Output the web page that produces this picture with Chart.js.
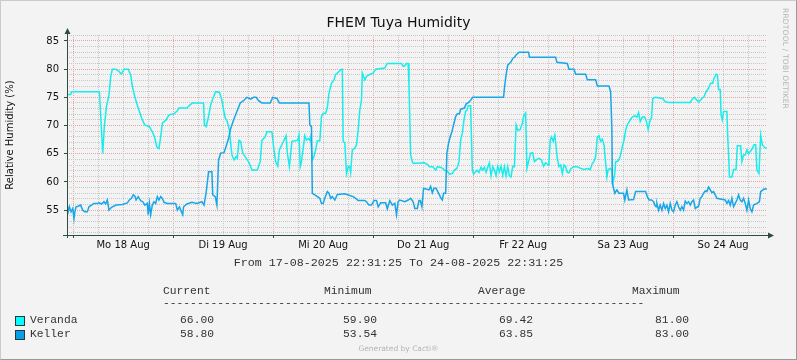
<!DOCTYPE html>
<html>
<head>
<meta charset="utf-8">
<script src="https://cdn.jsdelivr.net/npm/chart.js@4.4.1/dist/chart.umd.min.js"></script>
<style>
  html, body { margin: 0; padding: 0; background: #F3F3F3; }
  #wrap { position: relative; width: 797px; height: 360px; background: #F3F3F3; overflow: hidden; }
  #chart { position: absolute; left: 0; top: 0; }
  #frame { position: absolute; left: 0; top: 0; width: 797px; height: 360px; box-sizing: border-box;
           border-top: 1px solid #CBCBCB; border-left: 1px solid #CBCBCB;
           border-right: 1px solid #999999; border-bottom: 1px solid #999999; pointer-events: none; }
  .txt { position: absolute; white-space: pre; color: #111; }
  #title { left: 0; width: 797px; top: 14px; text-align: center; font: 14px "DejaVu Sans", sans-serif; line-height: 16px; }
  #range { left: 0; width: 797px; top: 257px; text-align: center; font: 11.7px "Liberation Mono", monospace; line-height: 12px; color: #333; }
  .mono { font: 11.3px "Liberation Mono", monospace; line-height: 12px; color: #333; }
  .box { position: absolute; width: 8px; height: 8px; border: 1px solid #333; }
  #watermark { left: 781px; top: 8px; font: 7.5px "DejaVu Sans", sans-serif; color: #B4B4B4; writing-mode: vertical-rl; letter-spacing: 0.2px; }
  #generated { left: 0; width: 797px; text-align: center; top: 344px; font: 7.5px "DejaVu Sans", sans-serif; color: #B4B4B4; line-height: 9px; }
</style>
</head>
<body>
<div id="wrap">
  <canvas id="chart" width="797" height="360"></canvas>
  <div id="title" class="txt">FHEM Tuya Humidity</div>
  <div id="range" class="txt">From 17-08-2025 22:31:25 To 24-08-2025 22:31:25</div>
  <div id="legend"></div>
  <div id="watermark" class="txt">RRDTOOL / TOBI OETIKER</div>
  <div id="generated" class="txt">Generated by Cacti®</div>
  <div id="frame"></div>
</div>
<script>
// time axis: hours since Mo 18 Aug 00:00
const START_H = -1.4764;   // 17-08-2025 22:31:25
const END_H = 166.5236;    // 24-08-2025 22:31:25
const dayLabels = ['Mo 18 Aug', 'Di 19 Aug', 'Mi 20 Aug', 'Do 21 Aug', 'Fr 22 Aug', 'Sa 23 Aug', 'So 24 Aug'];
const Y_MIN = 50.6;
const Y_MAX = 86.05;

const seriesNames = ['Veranda', 'Keller'];
const lineColors = ['#18ECEC', '#18A6E8'];
const boxColors = ['#00FFFF', '#00A2E8'];
const statHeaders = ['Current', 'Minimum', 'Average', 'Maximum'];
const statCurrent = ['66.00', '58.80'];
const statMinimum = ['59.90', '53.54'];
const statAverage = ['69.42', '63.85'];
const statMaximum = ['81.00', '83.00'];

const verandaHours = [
  -1.48, -0.6, -0.4, 6.3, 6.6, 7.1, 7.5, 8.0, 8.6, 9.0, 9.4, 10.2, 11.0, 11.6, 12.2, 13.2, 13.8, 14.2, 14.8, 15.4,
  15.9, 16.6, 17.2, 18.3, 19.0, 19.5, 20.1, 20.6, 21.0, 21.4, 22.3, 23.0, 24.2, 25.0, 25.4, 27.3, 28.1, 28.7, 31.3, 31.5,
  31.9, 32.5, 33.0, 33.7, 34.2, 35.1, 35.6, 36.1, 36.5, 37.0, 37.5, 37.8, 38.1, 38.6, 39.1, 39.4, 39.8, 40.2, 40.7, 41.3,
  41.8, 42.3, 42.9, 44.2, 44.9, 45.3, 46.1, 46.5, 47.7, 48.2, 48.6, 49.1, 49.5, 50.1, 50.6, 51.1, 51.4, 51.9, 52.5, 53.3,
  53.9, 54.2, 54.5, 54.8, 55.2, 55.6, 56.0, 56.4, 56.8, 57.0, 57.4, 57.8, 58.2, 58.6, 59.2, 59.6, 60.0, 60.6, 61.0, 61.4,
  62.0, 62.6, 63.0, 63.4, 64.0, 64.4, 64.6, 64.8, 65.2, 65.6, 66.0, 66.4, 66.6, 67.0, 67.6, 68.0, 68.4, 68.8, 69.2, 69.4,
  70.0, 70.4, 71.0, 72.0, 72.6, 74.8, 75.4, 78.8, 79.2, 79.6, 80.0, 80.4, 80.6, 81.0, 81.4, 81.6, 82.3, 84.3, 85.1, 85.5,
  86.3, 87.0, 87.4, 88.1, 88.7, 89.1, 89.9, 90.3, 91.0, 91.5, 92.1, 92.6, 93.0, 93.4, 93.8, 94.2, 94.6, 94.8, 95.4, 95.5,
  95.8, 96.1, 96.6, 97.0, 97.4, 97.9, 98.3, 98.7, 99.1, 99.5, 99.9, 100.3, 100.7, 101.1, 101.5, 101.9, 102.3, 102.7, 103.1, 103.5,
  103.9, 104.3, 104.7, 105.1, 105.5, 105.9, 106.3, 106.7, 107.3, 107.8, 108.1, 108.6, 108.9, 109.3, 109.8, 110.3, 110.7, 111.3, 111.8, 112.4,
  112.9, 113.4, 114.0, 114.2, 114.5, 114.8, 115.2, 115.6, 115.8, 116.2, 116.6, 117.0, 117.4, 117.8, 118.2, 118.6, 119.0, 119.4, 120.1, 121.0,
  121.8, 122.6, 123.4, 124.1, 124.6, 125.0, 125.4, 125.8, 126.2, 126.6, 127.0, 127.4, 127.8, 128.1, 128.4, 128.9, 129.3, 129.6, 130.0, 130.2,
  130.8, 131.3, 131.8, 132.2, 132.6, 133.0, 133.7, 134.2, 134.8, 135.3, 135.7, 136.1, 136.6, 137.2, 137.6, 138.0, 138.5, 138.8, 139.1, 139.7,
  141.5, 142.1, 142.9, 148.1, 148.7, 149.1, 149.7, 150.2, 150.9, 151.4, 151.9, 152.5, 153.0, 153.5, 153.8, 154.3, 154.6, 154.9, 155.3, 155.5,
  155.8, 156.1, 156.9, 157.1, 157.4, 157.5, 158.1, 158.5, 159.1, 159.4, 160.2, 160.5, 160.9, 161.3, 161.7, 162.1, 162.5, 162.9, 163.4, 163.8,
  164.1, 164.6, 165.0, 165.4, 166.1, 166.52
];
const verandaValues = [
  75.5, 75.5, 76.0, 76.0, 72.0, 65.1, 70.0, 73.4, 75.4, 78.6, 80.0, 80.0, 79.6, 79.1, 80.0, 80.0, 79.0, 77.0, 75.1, 73.6,
  72.5, 71.0, 70.1, 69.8, 68.9, 68.0, 66.2, 65.9, 68.0, 70.4, 71.0, 71.9, 72.1, 72.6, 73.1, 73.1, 73.7, 74.0, 74.0, 70.1,
  69.8, 71.6, 73.7, 75.1, 76.0, 75.9, 74.8, 72.8, 71.3, 70.7, 69.2, 66.9, 64.8, 63.9, 64.5, 64.2, 67.4, 67.2, 65.1, 64.5,
  63.9, 63.3, 62.1, 62.1, 63.6, 67.4, 68.0, 68.9, 68.9, 65.7, 63.6, 62.8, 65.7, 66.6, 67.4, 68.2, 65.1, 62.7, 67.2, 67.3,
  67.4, 68.3, 62.7, 63.6, 65.9, 68.2, 67.4, 67.7, 67.4, 68.0, 63.9, 64.5, 65.7, 67.3, 67.3, 71.6, 72.2, 72.2, 73.2, 75.7,
  77.5, 78.1, 79.1, 79.3, 79.7, 80.0, 80.0, 67.2, 66.9, 61.5, 62.7, 62.7, 61.7, 65.7, 66.0, 66.6, 69.2, 72.8, 74.5, 79.3,
  78.1, 78.7, 79.0, 79.3, 80.0, 80.2, 81.0, 81.0, 80.5, 80.6, 81.0, 81.0, 77.2, 64.8, 63.6, 63.3, 63.3, 63.4, 63.1, 62.7,
  62.7, 62.1, 62.7, 62.6, 62.4, 62.1, 61.8, 61.4, 61.5, 62.1, 62.4, 63.6, 67.4, 68.6, 71.0, 72.5, 72.8, 73.5, 73.5, 70.4,
  62.1, 61.4, 61.8, 62.1, 61.7, 62.6, 62.1, 62.6, 61.7, 62.6, 63.4, 61.1, 62.7, 62.1, 61.1, 62.8, 61.8, 62.8, 61.2, 62.7,
  61.1, 62.7, 61.1, 60.9, 62.8, 62.7, 70.1, 69.2, 69.3, 70.4, 71.6, 72.2, 62.4, 63.6, 65.1, 65.2, 63.6, 64.0, 64.2, 63.9,
  62.8, 63.4, 63.0, 63.6, 67.4, 68.0, 67.2, 68.3, 66.9, 64.2, 62.7, 63.0, 61.5, 63.0, 62.7, 61.7, 61.6, 62.3, 62.7, 62.7,
  62.4, 62.2, 62.4, 62.2, 63.3, 63.6, 64.5, 68.0, 68.2, 67.2, 67.6, 66.6, 63.3, 60.9, 62.2, 62.4, 62.1, 59.9, 61.5, 63.6,
  63.7, 64.5, 66.3, 67.4, 69.2, 70.1, 71.0, 71.5, 71.7, 71.5, 72.3, 70.7, 71.5, 71.5, 70.7, 69.3, 71.0, 71.3, 74.8, 75.0,
  74.8, 74.2, 74.1, 74.1, 74.8, 75.0, 74.5, 74.2, 74.8, 75.1, 76.0, 76.6, 77.5, 77.5, 78.4, 79.1, 79.0, 76.4, 76.4, 71.9,
  71.0, 72.5, 72.5, 68.0, 63.3, 60.9, 60.9, 62.2, 62.2, 66.4, 66.4, 63.6, 64.8, 64.8, 65.7, 65.0, 65.4, 65.8, 66.6, 66.6,
  62.1, 61.5, 68.3, 66.6, 66.0, 66.0
];

const kellerHours = [
  -1.48, -1.2, -0.9, -0.5, -0.1, 0.2, 0.4, 0.7, 1.2, 1.8, 2.3, 2.8, 3.4, 3.8, 4.4, 5.0, 5.8, 6.3, 6.8, 7.4,
  7.8, 8.2, 8.6, 9.2, 10.3, 11.8, 13.0, 13.5, 14.0, 14.4, 14.8, 15.1, 15.6, 16.2, 16.7, 17.2, 17.8, 18.0, 18.3, 18.6,
  19.0, 19.4, 19.8, 20.2, 20.6, 21.0, 21.4, 21.8, 22.6, 24.6, 25.0, 25.5, 26.0, 26.3, 26.5, 27.3, 28.5, 29.7, 30.9, 31.4,
  31.9, 32.5, 33.3, 33.5, 34.1, 34.5, 34.9, 35.4, 36.2, 36.7, 37.3, 37.7, 38.5, 39.3, 40.1, 40.9, 41.7, 42.6, 43.3, 43.9,
  44.5, 45.3, 47.3, 47.9, 48.9, 49.5, 56.6, 56.8, 57.2, 57.4, 58.0, 58.6, 59.2, 59.6, 60.0, 60.4, 61.0, 61.4, 61.8, 62.2,
  62.8, 63.4, 65.2, 66.0, 67.2, 67.8, 68.4, 70.0, 70.4, 71.0, 71.6, 72.2, 72.8, 73.2, 73.8, 75.0, 75.4, 76.0, 76.6, 77.2,
  77.6, 78.0, 78.4, 79.6, 80.4, 81.0, 81.6, 82.0, 82.6, 83.0, 83.3, 83.7, 84.1, 85.4, 85.8, 86.2, 86.6, 87.1, 87.5, 87.9,
  88.3, 88.6, 88.9, 89.4, 89.7, 90.1, 90.5, 90.9, 91.3, 91.8, 92.2, 92.7, 93.0, 93.9, 94.3, 94.9, 95.4, 95.9, 103.3, 103.5,
  103.9, 104.3, 104.7, 105.1, 105.5, 105.9, 106.3, 107.0, 109.3, 109.5, 115.8, 116.1, 118.6, 119.0, 120.2, 120.6, 123.0, 123.4, 125.4, 125.8,
  128.6, 129.0, 129.3, 129.4, 129.6, 130.0, 130.5, 131.0, 132.1, 132.4, 132.9, 133.3, 134.5, 135.0, 137.4, 137.8, 138.2, 138.8, 139.3, 139.6,
  139.9, 140.1, 140.5, 140.9, 141.3, 141.7, 142.1, 142.5, 142.9, 143.3, 143.7, 144.1, 144.5, 144.9, 145.3, 145.7, 146.1, 146.5, 146.9, 147.3,
  147.7, 148.1, 148.5, 148.9, 149.3, 150.1, 150.5, 150.9, 151.3, 151.7, 152.1, 152.5, 152.9, 153.3, 153.7, 154.1, 154.5, 156.5, 156.9, 157.3,
  157.7, 158.1, 158.5, 158.9, 159.3, 159.7, 160.1, 160.5, 160.9, 161.3, 161.7, 162.1, 162.5, 162.9, 163.3, 164.1, 164.7, 165.0, 165.7, 166.52
];
const kellerValues = [
  56.2, 54.7, 55.6, 54.7, 55.3, 53.5, 54.7, 55.6, 55.7, 55.9, 55.0, 54.7, 54.7, 55.6, 55.9, 56.2, 56.2, 56.3, 56.1, 56.5,
  56.1, 56.8, 55.0, 55.5, 55.9, 56.0, 56.3, 56.8, 57.1, 57.7, 57.5, 56.8, 57.4, 56.7, 56.5, 55.9, 56.2, 54.2, 56.2, 54.2,
  55.9, 56.5, 56.2, 57.4, 56.8, 57.4, 57.1, 56.4, 56.2, 56.2, 55.0, 55.6, 54.7, 54.2, 55.6, 56.1, 56.4, 56.2, 56.5, 55.9,
  58.0, 61.8, 61.8, 57.7, 57.4, 55.9, 63.9, 65.1, 65.2, 66.3, 67.7, 69.2, 71.0, 72.5, 74.0, 74.4, 75.0, 74.7, 75.0, 75.0,
  74.4, 74.0, 74.0, 75.0, 74.8, 74.0, 74.0, 70.1, 69.8, 58.0, 57.7, 57.4, 57.1, 56.2, 56.2, 57.1, 58.3, 58.0, 57.1, 57.4,
  56.8, 57.8, 57.9, 57.7, 57.4, 57.1, 56.7, 56.7, 56.5, 55.9, 55.9, 56.7, 56.7, 55.6, 56.3, 56.3, 55.2, 56.7, 55.9, 56.2,
  54.2, 56.5, 56.8, 56.5, 56.8, 57.1, 56.5, 55.3, 55.3, 56.7, 56.7, 55.6, 58.9, 58.6, 59.2, 58.1, 58.9, 58.9, 58.3, 57.7,
  57.1, 56.8, 58.0, 58.0, 65.1, 66.9, 68.0, 68.9, 70.1, 71.6, 72.1, 72.1, 72.9, 73.1, 73.8, 74.1, 74.5, 75.0, 75.0, 76.6,
  79.0, 80.7, 81.0, 81.3, 81.9, 82.1, 82.5, 83.0, 83.0, 82.1, 82.1, 81.2, 81.0, 80.0, 80.0, 79.1, 79.1, 78.1, 78.1, 77.0,
  77.0, 76.0, 69.2, 59.8, 59.2, 58.0, 58.6, 58.0, 58.0, 56.8, 58.6, 56.8, 56.9, 58.3, 58.3, 57.4, 56.8, 56.8, 56.5, 55.9,
  55.6, 56.2, 55.0, 55.9, 55.0, 56.2, 55.3, 55.9, 54.7, 56.2, 55.0, 54.7, 55.9, 56.5, 55.6, 55.0, 55.6, 55.0, 56.6, 56.2,
  56.5, 55.9, 56.5, 56.8, 55.3, 55.7, 57.1, 57.4, 58.0, 58.4, 58.3, 59.1, 58.6, 58.1, 58.3, 57.7, 57.1, 56.8, 56.2, 56.7,
  55.9, 57.1, 55.6, 56.2, 56.8, 57.7, 56.8, 56.5, 57.1, 56.2, 55.0, 56.8, 55.3, 54.7, 55.9, 56.2, 56.5, 58.3, 58.7, 58.8
];

const GRID_MINOR = '#C8C8C8';
const GRID_MAJOR = '#E6A4A4';
const AXIS_COLOR = '#2C4D43';

// gridlines every 6 hours, labels at noon
const xTickHours = [];
for (let h = 0; h <= END_H; h += 6) xTickHours.push(h);
const yTickValues = [];
for (let v = Math.ceil(Y_MIN); v <= Math.floor(Y_MAX); v++) yTickValues.push(v);

function toPoints(hours, values) {
    return hours.map((h, i) => ({ x: h, y: values[i] }));
}

// axis lines with arrow heads, RRDtool style
const axisArrows = {
    id: 'axisArrows',
    afterDraw(chart) {
        const { ctx, chartArea: a } = chart;
        ctx.save();
        ctx.strokeStyle = AXIS_COLOR;
        ctx.fillStyle = AXIS_COLOR;
        ctx.lineWidth = 1;
        const yb = Math.round(a.bottom) + 0.5;
        const xl = Math.round(a.left) + 0.5;
        ctx.beginPath();
        ctx.moveTo(a.left - 4, yb);
        ctx.lineTo(a.right + 2, yb);
        ctx.moveTo(xl, a.bottom + 3);
        ctx.lineTo(xl, a.top - 2);
        ctx.stroke();
        ctx.beginPath();
        ctx.moveTo(a.right + 7, yb);
        ctx.lineTo(a.right + 1, yb - 3);
        ctx.lineTo(a.right + 1, yb + 3);
        ctx.closePath();
        ctx.fill();
        ctx.beginPath();
        ctx.moveTo(xl, a.top - 7);
        ctx.lineTo(xl - 3, a.top - 1);
        ctx.lineTo(xl + 3, a.top - 1);
        ctx.closePath();
        ctx.fill();
        ctx.restore();
    }
};

const chart = new Chart(document.getElementById('chart'), {
    type: 'line',
    data: {
        datasets: [
            {
                label: seriesNames[0],
                data: toPoints(verandaHours, verandaValues),
                borderColor: lineColors[0],
                borderWidth: 1.5,
                pointRadius: 0,
                tension: 0,
                order: 2
            },
            {
                label: seriesNames[1],
                data: toPoints(kellerHours, kellerValues),
                borderColor: lineColors[1],
                borderWidth: 1.5,
                pointRadius: 0,
                tension: 0,
                order: 1
            }
        ]
    },
    options: {
        responsive: false,
        animation: false,
        events: [],
        layout: { padding: { left: 0, right: 30, top: 35, bottom: 105 } },
        plugins: {
            legend: { display: false },
            tooltip: { enabled: false },
            title: { display: false }
        },
        scales: {
            x: {
                type: 'linear',
                min: START_H,
                max: END_H,
                afterBuildTicks: (scale) => { scale.ticks = xTickHours.map(v => ({ value: v })); },
                afterFit: (scale) => { scale.height = 20; },
                grid: {
                    color: (c) => (c.tick && c.tick.value % 24 === 0 ? GRID_MAJOR : GRID_MINOR),
                    lineWidth: 1,
                    drawTicks: true,
                    tickLength: 3,
                    tickColor: (c) => (c.tick && c.tick.value % 24 === 0 ? AXIS_COLOR : 'rgba(0,0,0,0)')
                },
                border: { display: false, dash: [1, 1] },
                ticks: {
                    autoSkip: false,
                    maxRotation: 0,
                    padding: 1,
                    color: '#111',
                    font: { family: 'DejaVu Sans', size: 10 },
                    callback: (v) => (v % 24 === 12 ? dayLabels[(v - 12) / 24] : '')
                }
            },
            y: {
                min: Y_MIN,
                max: Y_MAX,
                afterBuildTicks: (scale) => { scale.ticks = yTickValues.map(v => ({ value: v })); },
                afterFit: (scale) => { scale.width = 67; },
                grid: {
                    color: (c) => (c.tick && c.tick.value % 5 === 0 ? GRID_MAJOR : GRID_MINOR),
                    lineWidth: 1,
                    drawTicks: true,
                    tickLength: 3,
                    tickColor: (c) => (c.tick && c.tick.value % 5 === 0 ? AXIS_COLOR : 'rgba(0,0,0,0)')
                },
                border: { display: false, dash: [1, 1] },
                ticks: {
                    autoSkip: false,
                    padding: 5,
                    color: '#111',
                    font: { family: 'DejaVu Sans', size: 10 },
                    callback: (v) => (v % 5 === 0 ? String(v) : '')
                },
                title: {
                    display: true,
                    text: 'Relative Humidity (%)',
                    color: '#111',
                    font: { family: 'DejaVu Sans', size: 10 },
                    padding: { top: 4, bottom: 0 }
                }
            }
        }
    },
    plugins: [axisArrows]
});

// legend table below the graph
function buildLegend() {
    const legend = document.getElementById('legend');
    const headerLeft = [163, 324, 478, 632];
    const valueRight = [214, 377, 533, 689];
    const rowTops = [313.5, 327.5];
    const columns = [statCurrent, statMinimum, statAverage, statMaximum];

    const add = (text, css) => {
        const el = document.createElement('div');
        el.className = 'txt mono';
        el.textContent = text;
        Object.assign(el.style, css);
        legend.appendChild(el);
        return el;
    };

    statHeaders.forEach((h, i) => add(h, { left: headerLeft[i] + 'px', top: '285px' }));
    add('-'.repeat(71), { left: '163px', top: '297px' });

    seriesNames.forEach((name, r) => {
        const box = document.createElement('div');
        box.className = 'box';
        box.style.left = '15px';
        box.style.top = (rowTops[r] + 2) + 'px';
        box.style.background = boxColors[r];
        legend.appendChild(box);
        add(name, { left: '30px', top: rowTops[r] + 'px' });
        columns.forEach((col, c) => {
            add(col[r], { left: (valueRight[c] - 60) + 'px', width: '60px', textAlign: 'right', top: rowTops[r] + 'px' });
        });
    });
}
buildLegend();
</script>
</body>
</html>
